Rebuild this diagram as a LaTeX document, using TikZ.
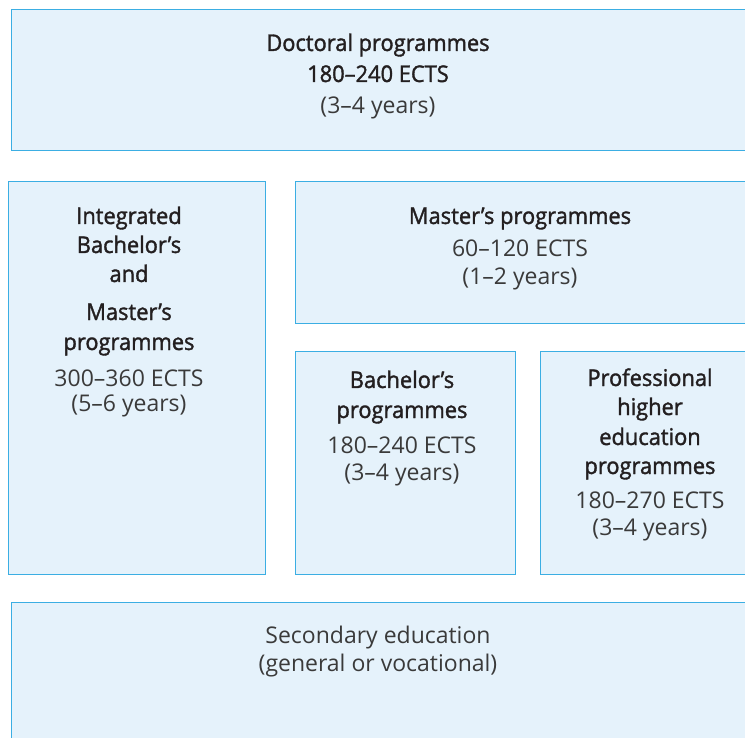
\documentclass[tikz,border=0pt]{standalone}
\usepackage{fontspec}
\setmainfont{Open Sans}
\newfontfamily\titlefont[FakeStretch=0.95, FakeBold=1.5]{Open Sans}
\definecolor{boxfill}{HTML}{E5F2FB}
\definecolor{boxline}{HTML}{3BAEE3}
\definecolor{txt}{HTML}{231F20}
\definecolor{txtl}{HTML}{3A3A3A}
\tikzset{
  box/.style={draw=boxline, fill=boxfill, line width=1pt, rectangle, anchor=north west, inner sep=0pt, outer sep=0pt},
  ttl/.style={text=txt, font=\titlefont\fontsize{23}{28}\selectfont, inner sep=0pt, text height=14pt, text depth=0pt},
  nrm/.style={text=txtl, font=\fontsize{23}{28}\selectfont, inner sep=0pt, text height=14pt, text depth=0pt}
}
\begin{document}
\begin{tikzpicture}[x=1pt,y=-1pt]
\useasboundingbox (0,0) rectangle (745,738);
\clip (0,0) rectangle (745,738);
% boxes
\node[box, minimum width=740pt, minimum height=141pt] (doc) at (11,10) {};
\node[box, minimum width=257pt, minimum height=392pt] (int) at (8,182) {};
\node[box, minimum width=456pt, minimum height=142pt] (mas) at (295,182) {};
\node[box, minimum width=220pt, minimum height=222pt] (bac) at (295,352) {};
\node[box, minimum width=211pt, minimum height=222pt] (pro) at (540,352) {};
\node[box, minimum width=740pt, minimum height=145pt] (sec) at (11,602) {};
% doctoral
\node[ttl] (d1) at (378,44) {Doctoral programmes};
\node[ttl] (d2) at (378,75) {180–240 ECTS};
\node[nrm] (d3) at (378,107) {(3–4 years)};
% integrated
\node[ttl] (i1) at (129,217) {Integrated};
\node[ttl] (i2) at (129,246) {Bachelor’s};
\node[ttl] (i3) at (129,275) {and};
\node[ttl] (i4) at (129,313) {Master’s};
\node[ttl] (i5) at (129,343) {programmes};
\node[nrm] (i6) at (129,379) {300–360 ECTS};
\node[nrm] (i7) at (129,404) {(5–6 years)};
% master
\node[ttl] (m1) at (520,217) {Master’s programmes};
\node[nrm] (m2) at (520,250) {60–120 ECTS};
\node[nrm] (m3) at (520,278) {(1–2 years)};
% bachelor
\node[ttl] (b1) at (402,381) {Bachelor’s};
\node[ttl] (b2) at (402,411) {programmes};
\node[nrm] (b3) at (402,446) {180–240 ECTS};
\node[nrm] (b4) at (402,473) {(3–4 years)};
% professional
\node[ttl] (p1) at (650,379) {Professional};
\node[ttl] (p2) at (650,408) {higher};
\node[ttl] (p3) at (650,438) {education};
\node[ttl] (p4) at (650,467) {programmes};
\node[nrm] (p5) at (650,501) {180–270 ECTS};
\node[nrm] (p6) at (650,528) {(3–4 years)};
% secondary
\node[nrm] (s1) at (378,636) {Secondary education};
\node[nrm] (s2) at (378,664) {(general or vocational)};
\end{tikzpicture}
\end{document}
